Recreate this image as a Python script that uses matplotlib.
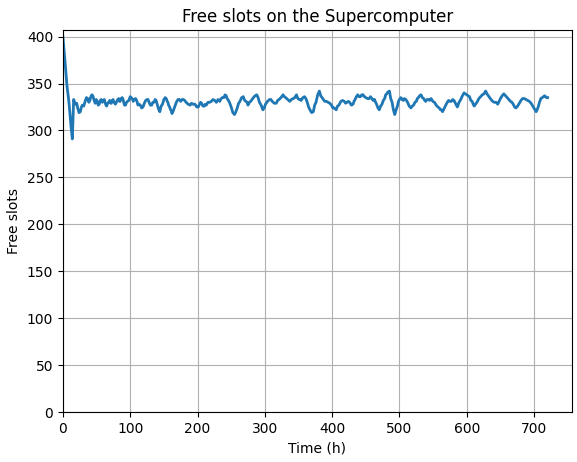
import matplotlib
matplotlib.use("Agg")
import matplotlib.pyplot as plt

time_h = [0, 3, 6, 9, 12, 14, 16, 17.5, 19, 20.5, 22, 24, 26, 27.5, 29, 31, 33, 35, 37, 38.5,
          40, 41.5, 43, 44.5, 46, 47, 48, 49.5, 51, 52.5, 54, 55.5, 57, 58.5, 60, 61.5, 63, 64, 65, 66.5,
          68, 69.5, 71, 72, 73, 74.5, 76, 78, 80, 81.5, 83, 84, 85, 86.5, 88, 89, 90, 91.5, 93, 94.5,
          96, 98, 100, 101.5, 103, 104.5, 106, 108, 110, 111.5, 113, 115, 117, 119, 121, 123, 125, 126.5, 128, 130,
          132, 133.5, 135, 136, 137, 138.5, 140, 142, 144, 146, 148, 150, 152, 153.5, 155, 156, 157, 158.5, 160, 161,
          162, 164, 166, 168.5, 171, 173, 175, 177, 179, 181, 183, 186, 189, 191, 193, 196, 199, 201, 203, 204.5,
          206, 208, 210, 211.5, 213, 215.5, 218, 220.5, 223, 225.5, 228, 230.5, 233, 235, 237, 239, 241, 242.5, 244, 245,
          246, 248, 250, 252.5, 255, 257, 259, 261, 263, 265.5, 268, 270, 272, 273.5, 275, 277, 279, 281, 283, 285.5,
          288, 290, 292, 294.5, 297, 299, 301, 304, 307, 309, 311, 314, 317, 319, 321, 324, 327, 329, 331, 334,
          337, 339.5, 342, 344.5, 347, 349, 351, 352.5, 354, 356.5, 359, 361, 363, 365, 367, 369.5, 372, 374, 376, 378.5,
          381, 383, 385, 387, 389, 391.5, 394, 396.5, 399, 401, 403, 404.5, 406, 408, 410, 411.5, 413, 415.5, 418, 420,
          422, 424, 426, 428.5, 431, 432.5, 434, 436, 438, 440, 442, 444, 446, 448, 450, 452.5, 455, 457, 459, 461,
          463, 464.5, 466, 468, 470, 472, 474, 476, 478, 479.5, 481, 483, 485, 487, 489, 491, 493, 495, 497, 498.5,
          500, 502, 504, 505.5, 507, 509.5, 512, 514.5, 517, 519, 521, 523, 525, 526.5, 528, 530, 532, 534, 536, 537.5,
          539, 541, 543, 545, 547, 549.5, 552, 554.5, 557, 559, 561, 562.5, 564, 566, 568, 569.5, 571, 573, 575, 577,
          579, 581, 583, 584.5, 586, 588.5, 591, 593.5, 596, 598, 600, 602, 604, 606, 608, 609.5, 611, 613, 615, 616.5,
          618, 620.5, 623, 625.5, 628, 630, 632, 634, 636, 638.5, 641, 643.5, 646, 648, 650, 652.5, 655, 657.5, 660, 662.5,
          665, 667, 669, 671, 673, 675.5, 678, 680.5, 683, 685.5, 688, 690.5, 693, 695.5, 698, 700.5, 703, 704.5, 706, 708,
          710, 712, 714, 715.5, 717, 718.5, 720]
free_slots = [400, 375, 348, 330, 305, 291, 333, 330, 328, 329, 324, 319, 320, 325, 327, 326, 331, 335, 334, 330,
              332, 336, 338, 337, 333, 331, 329, 333, 331, 327, 328, 332, 333, 330, 332, 333, 329, 327, 326, 329,
              330, 332, 329, 329, 332, 333, 330, 328, 331, 333, 334, 331, 331, 334, 335, 334, 331, 327, 327, 330,
              331, 332, 336, 335, 334, 331, 333, 334, 331, 327, 328, 327, 324, 325, 329, 332, 333, 333, 330, 327,
              327, 330, 330, 331, 333, 332, 328, 323, 320, 326, 328, 333, 335, 334, 331, 330, 327, 325, 322, 321,
              318, 321, 325, 330, 333, 333, 331, 333, 333, 332, 330, 328, 327, 329, 328, 328, 325, 325, 328, 330,
              329, 326, 326, 328, 327, 330, 330, 331, 333, 332, 330, 333, 331, 334, 335, 335, 338, 337, 334, 333,
              332, 329, 325, 319, 317, 320, 324, 329, 331, 335, 336, 332, 331, 330, 327, 330, 331, 333, 335, 337,
              338, 335, 330, 327, 322, 324, 328, 331, 333, 333, 331, 329, 329, 332, 333, 335, 338, 336, 335, 333,
              331, 333, 334, 335, 338, 334, 333, 333, 332, 335, 336, 334, 330, 325, 322, 319, 320, 327, 330, 338,
              342, 337, 335, 333, 331, 331, 330, 329, 327, 324, 324, 323, 322, 326, 327, 329, 331, 332, 331, 329,
              330, 331, 330, 327, 328, 331, 333, 336, 338, 336, 336, 338, 338, 336, 335, 334, 334, 336, 334, 332,
              333, 330, 328, 324, 322, 326, 328, 332, 334, 338, 339, 341, 342, 334, 330, 322, 317, 322, 326, 331,
              333, 335, 333, 332, 334, 333, 330, 326, 324, 326, 327, 330, 331, 334, 335, 337, 338, 335, 334, 332,
              331, 333, 333, 332, 334, 331, 330, 327, 325, 324, 322, 322, 320, 323, 326, 328, 330, 332, 331, 331,
              333, 332, 329, 327, 325, 330, 333, 337, 340, 339, 338, 337, 336, 332, 331, 328, 326, 328, 330, 332,
              334, 336, 338, 339, 342, 339, 337, 335, 333, 331, 330, 330, 328, 331, 334, 337, 339, 337, 335, 333,
              331, 330, 328, 325, 324, 326, 329, 332, 334, 334, 333, 332, 331, 329, 326, 323, 320, 322, 325, 330,
              334, 335, 336, 337, 336, 335, 335]

fig = plt.figure(figsize=(5.77, 4.62), dpi=100)
ax = fig.add_axes([0.109, 0.108, 0.882, 0.827])
ax.plot(time_h, free_slots, color="#1f77b4", linewidth=2.0)
ax.set_xlim(0, 756)
ax.set_ylim(0, 407)
ax.set_xticks(range(0, 701, 100))
ax.set_yticks(range(0, 401, 50))
ax.grid(True)
ax.set_title("Free slots on the Supercomputer")
ax.set_xlabel("Time (h)")
ax.set_ylabel("Free slots")
fig.savefig("out.png", dpi=100)
